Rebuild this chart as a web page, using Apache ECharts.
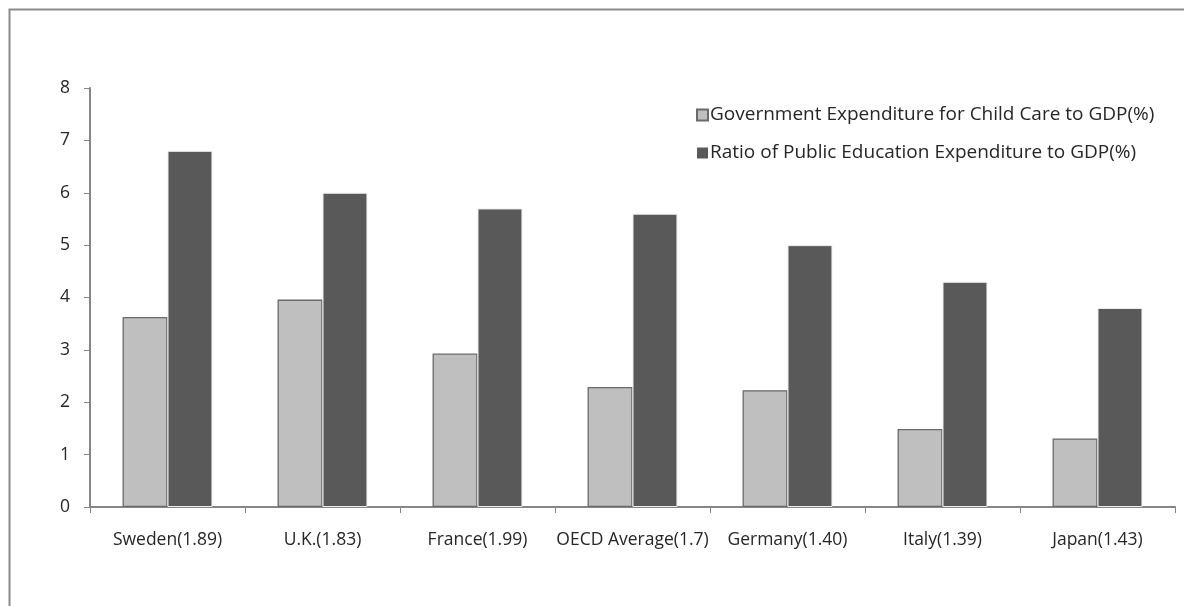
<!DOCTYPE html>
<html>
<head>
<meta charset="utf-8">
<script src="https://cdn.jsdelivr.net/npm/echarts@6/dist/echarts.min.js"></script>
<style>html,body{margin:0;padding:0;background:#fff}#c{width:1184px;height:606px}</style>
</head>
<body>
<div id="c"></div>
<script>
const categories = ['Sweden(1.89)', 'U.K.(1.83)', 'France(1.99)', 'OECD Average(1.7)', 'Germany(1.40)', 'Italy(1.39)', 'Japan(1.43)'];
const childCare = [3.63, 3.96, 2.93, 2.29, 2.23, 1.49, 1.31];
const education = [6.8, 6.0, 5.7, 5.6, 5.0, 4.3, 3.8];
const seriesNames = ['Government Expenditure for Child Care to GDP(%)', 'Ratio of Public Education Expenditure to GDP(%)'];
const yTicks = [0, 1, 2, 3, 4, 5, 6, 7, 8];

const font = '"Open Sans", "Liberation Sans", sans-serif';
const chart = echarts.init(document.getElementById('c'));
chart.setOption({
  animation: false,
  backgroundColor: '#fff',
  graphic: [{
    type: 'rect', left: 7, top: 7, silent: true,
    shape: { width: 1250, height: 650 },
    style: { fill: 'none', stroke: '#8a8a8a', lineWidth: 2 }
  }],
  legend: {
    orient: 'vertical', left: 691, top: 99, itemGap: 16,
    itemWidth: 11, itemHeight: 11, icon: 'rect',
    textStyle: { fontFamily: font, fontSize: 19, lineHeight: 22, color: '#262626', padding: [0, 0, 0, -3] },
    data: [
      { name: seriesNames[0] },
      { name: seriesNames[1], itemStyle: { borderWidth: 0 } }
    ]
  },
  grid: { left: 90, right: 9, top: 88, bottom: 99 },
  xAxis: {
    type: 'category', data: categories,
    axisLine: { lineStyle: { color: '#868686', width: 2 } },
    axisTick: { show: true, length: 6, lineStyle: { color: '#868686' } },
    axisLabel: { fontFamily: font, fontSize: 17.5, color: '#262626', margin: 24, interval: 0 }
  },
  yAxis: {
    type: 'value', min: yTicks[0], max: yTicks[yTicks.length - 1], interval: 1,
    axisLine: { show: true, lineStyle: { color: '#868686', width: 2 } },
    axisTick: { show: true, length: 6, lineStyle: { color: '#868686' } },
    splitLine: { show: false },
    axisLabel: { fontFamily: font, fontSize: 17.5, color: '#262626', margin: 20 }
  },
  series: [{
    name: seriesNames[0], type: 'bar', data: childCare,
    barGap: '0%', barCategoryGap: '42%',
    itemStyle: { color: '#bfbfbf', borderColor: '#6a6a6a', borderWidth: 1.3 }
  }, {
    name: seriesNames[1], type: 'bar', data: education,
    barGap: '0%', barCategoryGap: '42%',
    itemStyle: { color: '#595959', borderColor: '#ececec', borderWidth: 1 }
  }]
});
</script>
</body>
</html>
